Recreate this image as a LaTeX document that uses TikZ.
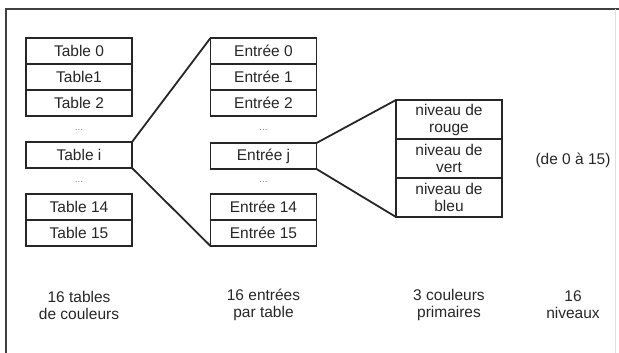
\documentclass[tikz,border=0pt]{standalone}
\usepackage{fontspec}
\setmainfont{Liberation Sans}
\begin{document}
\begin{tikzpicture}[x=1pt,y=-1pt,
  every node/.style={font=\fontsize{15.5}{17}\selectfont, text=black!85},
  cell/.style={draw=black!85, line width=1.6pt, minimum width=106pt, minimum height=26pt,
    inner sep=0pt, outer sep=0pt},
  tallcell/.style={cell, minimum height=39pt, align=center},
  gap/.style={text=black!50, font=\fontsize{10}{12}\selectfont},
  caption/.style={align=center},
  link/.style={draw=black!85, line width=1.8pt}]
\useasboundingbox (0,0) rectangle (619,353);
% frame
\draw[black!75, line width=1.4pt] (619,9) -- (6,9) -- (6,353);
\draw[black!12, line width=0.8pt] (615,9) -- (615,353);

% colour tables
\node[cell] (t0)  at (79,51)    {Table 0};
\node[cell] (t1)  at (79,77)    {Table1};
\node[cell] (t2)  at (79,103)   {Table 2};
\node[gap]  (td1) at (79,130)   {...};
\node[cell] (ti)  at (79,155)   {Table i};
\node[gap]  (td2) at (79,182)   {...};
\node[cell] (t14) at (79,207)   {Table 14};
\node[cell] (t15) at (79,233)   {Table 15};

% entries of one table
\node[cell] (e0)  at (263.5,51)  {Entrée 0};
\node[cell] (e1)  at (263.5,77)  {Entrée 1};
\node[cell] (e2)  at (263.5,103) {Entrée 2};
\node[gap]  (ed1) at (263.5,130) {...};
\node[cell] (ej)  at (263.5,156) {Entrée j};
\node[gap]  (ed2) at (263.5,182) {...};
\node[cell] (e14) at (263.5,207) {Entrée 14};
\node[cell] (e15) at (263.5,233) {Entrée 15};

% primary colour levels
\node[tallcell] (r) at (449,119.5) {niveau de\\rouge};
\node[tallcell] (v) at (449,158.5) {niveau de\\vert};
\node[tallcell] (b) at (449,197.5) {niveau de\\bleu};

\node (range) at (573,160) {(de 0 à 15)};

% expansion lines
\draw[link] (ti.north east) -- (e0.north west);
\draw[link] (ti.south east) -- (e15.south west);
\draw[link] (ej.north east) -- (r.north west);
\draw[link] (ej.south east) -- (b.south west);

% captions
\node[caption] (c1) at (79,305)    {16 tables\\de couleurs};
\node[caption] (c2) at (263.5,305) {16 entrées\\par table};
\node[caption] (c3) at (449,305)   {3 couleurs\\primaires};
\node[caption] (c4) at (573,305)   {16\\niveaux};
\end{tikzpicture}
\end{document}
